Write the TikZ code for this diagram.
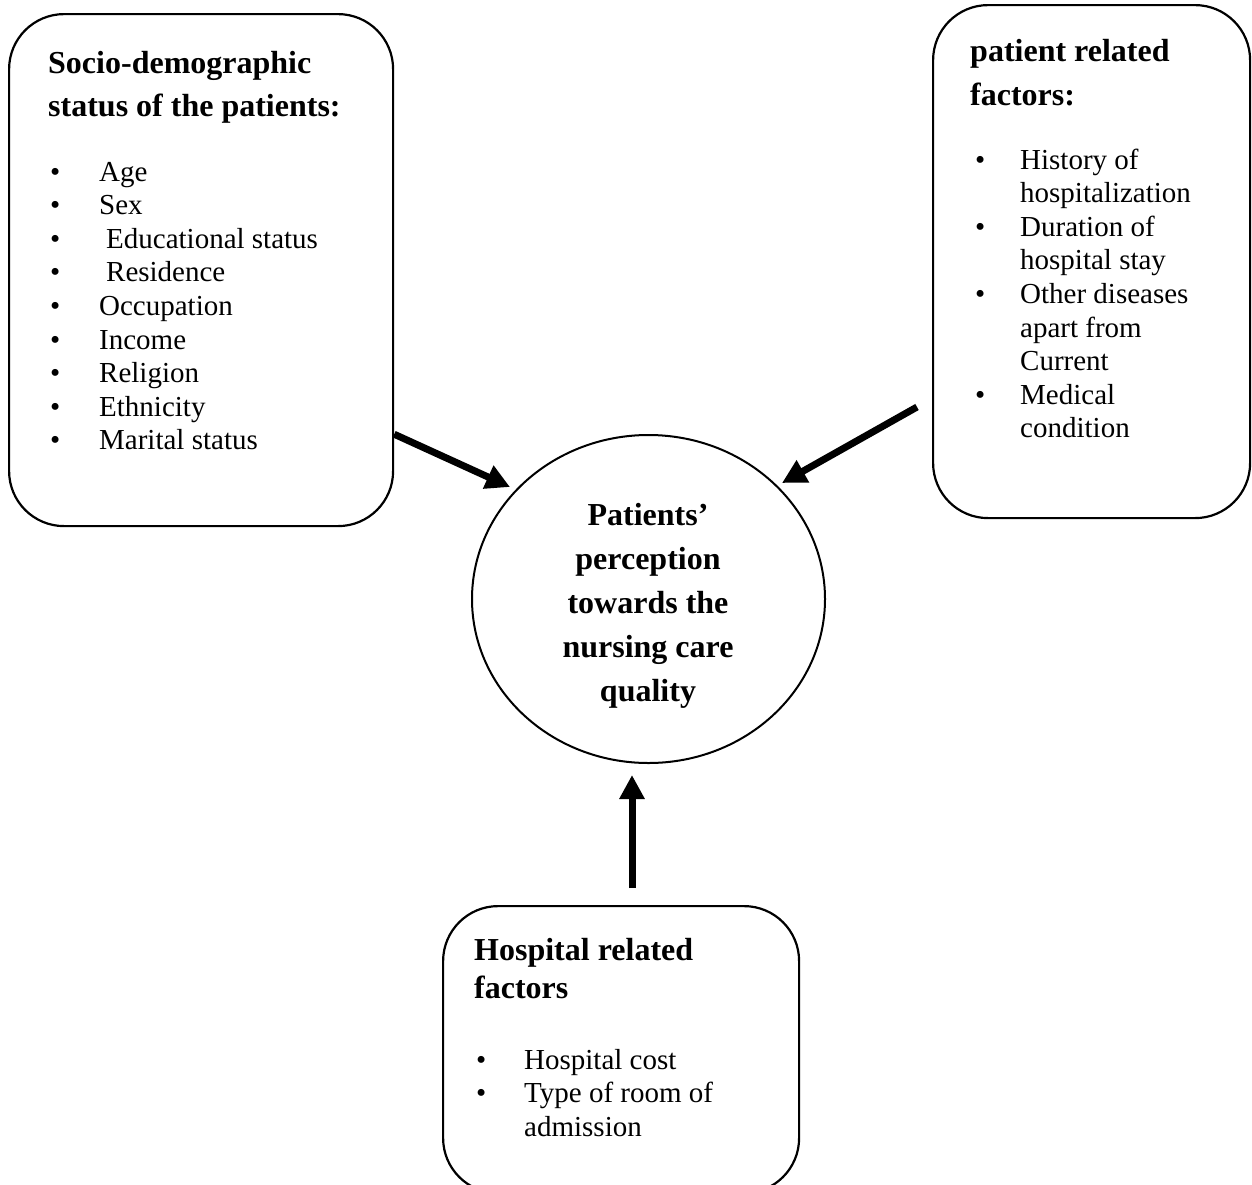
\documentclass[tikz,border=0pt]{standalone}
\usepackage{fontspec}
\setmainfont{Liberation Serif}
\usetikzlibrary{arrows.meta,shapes.geometric,calc}
\begin{document}
\begin{tikzpicture}[x=1pt,y=-1pt,
  box/.style={draw,line width=2.2pt,rounded corners=55pt,anchor=north west,inner sep=0pt},
  circ/.style={draw,ellipse,line width=2pt,inner sep=0pt,minimum width=353pt,minimum height=328pt},
  arr/.style={line width=7pt,-{Triangle[length=24pt,width=24pt]}},
  txt/.style={anchor=base west,inner sep=0pt},
  ctxt/.style={anchor=base,inner sep=0pt}
]
\useasboundingbox (0,0) rectangle (1252,1184);
\clip (0,0) rectangle (1252,1184);

% boxes
\node[box,minimum width=384pt,minimum height=512pt] (lb) at (8,13) {};
\node[box,minimum width=317pt,minimum height=513pt] (rb) at (932,4) {};
\node[box,minimum width=356pt,minimum height=287pt] (bb) at (442,905) {};
\node[circ] (c) at (648.5,599) {};

% left box text
\node[txt] (lbt) at (48,73) {\fontsize{32}{43}\selectfont\bfseries
  \begin{tabular}[t]{@{}l@{}}Socio-demographic\\status of the patients:\end{tabular}};
\node[txt] (lbl) at (50,181) {\fontsize{29}{33.6}\selectfont
  \begin{tabular}[t]{@{}p{49pt}@{}l@{}}
  • & Age\\
  • & Sex\\
  • & \hspace*{7pt}Educational status\\
  • & \hspace*{7pt}Residence\\
  • & Occupation\\
  • & Income\\
  • & Religion\\
  • & Ethnicity\\
  • & Marital status
  \end{tabular}};

% right box text
\node[txt] (rbt) at (970,61) {\fontsize{32}{44}\selectfont\bfseries
  \begin{tabular}[t]{@{}l@{}}patient related\\factors:\end{tabular}};
\node[txt] (rbl) at (975,169) {\fontsize{29}{33.6}\selectfont
  \begin{tabular}[t]{@{}p{45pt}@{}l@{}}
  • & History of\\
    & hospitalization\\
  • & Duration of\\
    & hospital stay\\
  • & Other diseases\\
    & apart from\\
    & Current\\
  • & Medical\\
    & condition
  \end{tabular}};

% bottom box text
\node[txt] (bbt) at (474,960) {\fontsize{32}{38}\selectfont\bfseries
  \begin{tabular}[t]{@{}l@{}}Hospital related\\factors\end{tabular}};
\node[txt] (bbl) at (476,1069) {\fontsize{29}{33.6}\selectfont
  \begin{tabular}[t]{@{}p{48pt}@{}l@{}}
  • & Hospital cost\\
  • & Type of room of\\
    & admission
  \end{tabular}};

% circle text
\node[ctxt] (ct) at (648,525) {\fontsize{32}{44}\selectfont\bfseries
  \begin{tabular}[t]{@{}c@{}}Patients’\\perception\\towards the\\nursing care\\quality\end{tabular}};

% arrows
\coordinate (tL) at (510,487);
\coordinate (sR) at (917,407);
\coordinate (tR) at (782,483);
\coordinate (sB) at (632,888);
\coordinate (tB) at (632,775);
\draw[arr] ($(lb.south east)+(0,-93)$) -- (tL);
\draw[arr] (sR) -- (tR);
\draw[arr] (sB) -- (tB);
\end{tikzpicture}
\end{document}
